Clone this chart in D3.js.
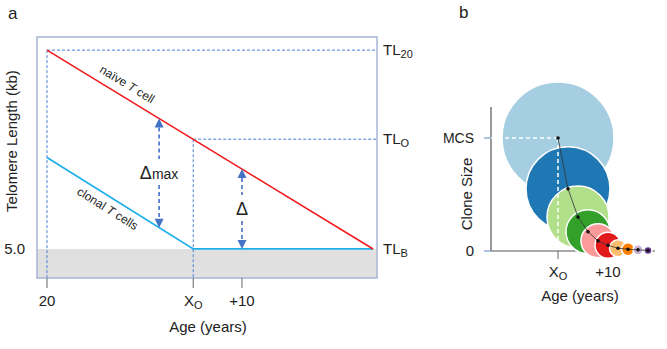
<!DOCTYPE html>
<html>
<head>
<meta charset="utf-8">
<script src="https://cdn.jsdelivr.net/npm/d3@7"></script>
<style>
  body { margin: 0; background: #fff; }
  text { font-family: "Liberation Sans", Arial, sans-serif; fill: #222; }
</style>
</head>
<body>
<div id="chart"></div>
<script>
// ---- panel a data ----
var naiveAge = [20, 86.9];
var naiveTL = [10, 5];
var clonalAge = [20, 50, 86.9];
var clonalTL = [7.3, 5, 5];
var tickAges = [20, 50, 60];
var tickLabels = ["20", "X|O", "+10"];
var levelNames = ["TL|20", "TL|O", "TL|B"];
var levelTL = [10, 7.76, 5];
var arrowAges = [43, 60];
var arrowLabels = ["Δ|max", "Δ|"];

// ---- panel b data ----
var cloneAge = [50, 52, 54, 56, 58, 60, 62, 64, 66, 68];
var cloneSize = [1.0, 0.55, 0.30, 0.17, 0.09, 0.05, 0.025, 0.015, 0.01, 0.005];
var cloneSpread = [56, 42, 31, 22, 17, 13, 8.5, 6.5, 5, 4];
var cloneColors = ["#a6cee3", "#1f78b4", "#b2df8a", "#33a02c", "#fb9a99",
                   "#e31a1c", "#fdbf6f", "#ff7f00", "#cab2d6", "#6a3d9a"];
var bTickAges = [50, 60];
var bTickLabels = ["X|O", "+10"];

var svg = d3.select("#chart").append("svg")
    .attr("width", 667)
    .attr("height", 349);

// text with a subscript, "main|sub"
function subText(sel, label, big, small) {
  var parts = label.split("|");
  sel.append("tspan").text(parts[0]).attr("font-size", big);
  if (parts[1]) sel.append("tspan").text(parts[1]).attr("font-size", small).attr("dy", 3);
}

// ================= panel a =================
var x = d3.scaleLinear().domain([17.95, 87.7]).range([37, 377]);
var y = d3.scaleLinear().domain([4.27, 10.33]).range([278, 37]);
var dashBlue = "#4a7fd6";

svg.append("text").attr("x", 8).attr("y", 19).attr("font-size", 17).text("a");

// grey floor below TL_B
svg.append("rect")
    .attr("x", x.range()[0]).attr("y", y(5))
    .attr("width", x.range()[1] - x.range()[0])
    .attr("height", y(y.domain()[0]) - y(5))
    .attr("fill", "#e0e0e0");

// dashed guide lines
svg.append("line")
    .attr("x1", x(20)).attr("x2", x.range()[1])
    .attr("y1", y(levelTL[0])).attr("y2", y(levelTL[0]))
    .attr("stroke", dashBlue).attr("stroke-dasharray", "3,2");
svg.append("line")
    .attr("x1", x(20)).attr("x2", x(20))
    .attr("y1", y(levelTL[0])).attr("y2", y.range()[0])
    .attr("stroke", dashBlue).attr("stroke-dasharray", "3,2");
svg.append("line")
    .attr("x1", x(50)).attr("x2", x.range()[1])
    .attr("y1", y(levelTL[1])).attr("y2", y(levelTL[1]))
    .attr("stroke", dashBlue).attr("stroke-dasharray", "3,2");
svg.append("line")
    .attr("x1", x(50)).attr("x2", x(50))
    .attr("y1", y(levelTL[1])).attr("y2", y.range()[0])
    .attr("stroke", dashBlue).attr("stroke-dasharray", "3,2");

// frame
svg.append("rect")
    .attr("x", 37).attr("y", 37).attr("width", 340).attr("height", 241)
    .attr("fill", "none").attr("stroke", "#a7b4d6").attr("stroke-width", 1.5);

var line = d3.line()
    .x(function(d) { return x(d[0]); })
    .y(function(d) { return y(d[1]); });

svg.append("path")
    .datum(d3.zip(clonalAge, clonalTL))
    .attr("d", line)
    .attr("fill", "none").attr("stroke", "#1fb0ec").attr("stroke-width", 1.8);
svg.append("path")
    .datum(d3.zip(naiveAge, naiveTL))
    .attr("d", line)
    .attr("fill", "none").attr("stroke", "#f01a1e").attr("stroke-width", 1.6);

// line labels
var naiveAngle = Math.atan2(y(naiveTL[1]) - y(naiveTL[0]), x(naiveAge[1]) - x(naiveAge[0])) * 180 / Math.PI;
var nl = svg.append("text")
    .attr("transform", "translate(" + x(36) + "," + (y(10 - 16 * 5 / 66.9) - 10) + ") rotate(" + naiveAngle + ")")
    .attr("text-anchor", "middle").attr("font-size", 12);
nl.append("tspan").text("naïve ");
nl.append("tspan").text("T").attr("font-style", "italic");
nl.append("tspan").text(" cell");

var clonalAngle = Math.atan2(y(clonalTL[1]) - y(clonalTL[0]), x(clonalAge[1]) - x(clonalAge[0])) * 180 / Math.PI;
var cl = svg.append("text")
    .attr("transform", "translate(" + x(32) + "," + (y(7.3 - 12 * 2.3 / 30) + 18) + ") rotate(" + clonalAngle + ")")
    .attr("text-anchor", "middle").attr("font-size", 12);
cl.append("tspan").text("clonal ");
cl.append("tspan").text("T").attr("font-style", "italic");
cl.append("tspan").text(" cells");

// delta arrows
var arrowBlue = "#4472c4";
function naiveAt(a) { return d3.scaleLinear().domain(naiveAge).range(naiveTL)(a); }
function clonalAt(a) { return a < 50 ? d3.scaleLinear().domain([20, 50]).range([7.3, 5])(a) : 5; }
arrowAges.forEach(function(a, i) {
  var top = y(naiveAt(a)), bot = y(clonalAt(a)), cx = x(a), mid = (top + bot) / 2;
  svg.append("path")
      .attr("d", "M" + cx + "," + top + "l-4.5,9h9z").attr("fill", arrowBlue);
  svg.append("path")
      .attr("d", "M" + cx + "," + bot + "l-4.5,-9h9z").attr("fill", arrowBlue);
  svg.append("line").attr("x1", cx).attr("x2", cx).attr("y1", top + 9).attr("y2", mid - 14)
      .attr("stroke", arrowBlue).attr("stroke-width", 1.6).attr("stroke-dasharray", "4,3");
  svg.append("line").attr("x1", cx).attr("x2", cx).attr("y1", mid + 12).attr("y2", bot - 9)
      .attr("stroke", arrowBlue).attr("stroke-width", 1.6).attr("stroke-dasharray", "4,3");
  var t = svg.append("text").attr("x", cx).attr("y", mid + 6).attr("text-anchor", "middle");
  var p = arrowLabels[i].split("|");
  t.append("tspan").text(p[0]).attr("font-size", 18);
  if (p[1]) t.append("tspan").text(p[1]).attr("font-size", 14);
});

// x ticks
tickAges.forEach(function(a, i) {
  svg.append("line").attr("x1", x(a)).attr("x2", x(a)).attr("y1", 278).attr("y2", 288)
      .attr("stroke", "#666");
  var t = svg.append("text").attr("x", x(a)).attr("y", 306).attr("text-anchor", "middle");
  subText(t, tickLabels[i], 15, 11);
});

// right side level labels
levelNames.forEach(function(n, i) {
  var t = svg.append("text").attr("x", 383).attr("y", y(levelTL[i]) + 5);
  subText(t, n, 15, 11);
});

svg.append("text").attr("x", 25).attr("y", y(5) + 5).attr("text-anchor", "end")
    .attr("font-size", 15).text("5.0");

svg.append("text")
    .attr("transform", "translate(17,141) rotate(-90)")
    .attr("text-anchor", "middle").attr("font-size", 15)
    .text("Telomere Length (kb)");

svg.append("text").attr("x", 208).attr("y", 332).attr("text-anchor", "middle")
    .attr("font-size", 15).text("Age (years)");

// ================= panel b =================
var bx = d3.scaleLinear().domain([36.6, 69.4]).range([491, 655]);
var by = d3.scaleLinear().domain([0, 1]).range([251, 138]);
var br = d3.scaleLinear().domain([0, 56]).range([0, 56]);

svg.append("text").attr("x", 459).attr("y", 18).attr("font-size", 17).text("b");

// axes
svg.append("line").attr("x1", bx(36.6)).attr("x2", bx(36.6)).attr("y1", 107).attr("y2", by(0))
    .attr("stroke", "#555").attr("stroke-width", 1.2);
svg.append("line").attr("x1", bx(36.6)).attr("x2", bx(69.4)).attr("y1", by(0)).attr("y2", by(0))
    .attr("stroke", "#555").attr("stroke-width", 1.2);
[0, 1].forEach(function(v) {
  svg.append("line").attr("x1", bx(36.6) - 7).attr("x2", bx(36.6)).attr("y1", by(v)).attr("y2", by(v))
      .attr("stroke", "#7a9bd8").attr("stroke-width", 1.2);
});
bTickAges.forEach(function(a, i) {
  svg.append("line").attr("x1", bx(a)).attr("x2", bx(a)).attr("y1", by(0)).attr("y2", by(0) + 8)
      .attr("stroke", "#666");
  var t = svg.append("text").attr("x", bx(a)).attr("y", 277).attr("text-anchor", "middle");
  subText(t, bTickLabels[i], 15, 11);
});

// clone circles
var clones = d3.range(cloneAge.length).map(function(i) {
  return { age: cloneAge[i], size: cloneSize[i], r: cloneSpread[i], color: cloneColors[i] };
});
svg.selectAll(".clone")
    .data(clones)
  .enter().append("circle")
    .attr("class", "clone")
    .attr("cx", function(d) { return bx(d.age); })
    .attr("cy", function(d) { return by(d.size); })
    .attr("r", function(d) { return br(d.r); })
    .attr("fill", function(d) { return d.color; })
    .attr("stroke", "#fff").attr("stroke-width", 1.5);

// MCS guide lines
svg.append("line").attr("x1", bx(36.6)).attr("x2", bx(cloneAge[0]))
    .attr("y1", by(cloneSize[0])).attr("y2", by(cloneSize[0]))
    .attr("stroke", "#fff").attr("stroke-width", 1.5).attr("stroke-dasharray", "4,3");
svg.append("line").attr("x1", bx(cloneAge[0])).attr("x2", bx(cloneAge[0]))
    .attr("y1", by(cloneSize[0])).attr("y2", by(0) - 8)
    .attr("stroke", "#fff").attr("stroke-width", 1.5).attr("stroke-dasharray", "4,3");

// trajectory
svg.append("path")
    .datum(clones)
    .attr("d", d3.line().x(function(d) { return bx(d.age); }).y(function(d) { return by(d.size); }))
    .attr("fill", "none").attr("stroke", "#333").attr("stroke-width", 0.8);
svg.selectAll(".dot")
    .data(clones)
  .enter().append("circle")
    .attr("cx", function(d) { return bx(d.age); })
    .attr("cy", function(d) { return by(d.size); })
    .attr("r", 1.8).attr("fill", "#111");

svg.append("text").attr("x", 474).attr("y", by(1) + 5).attr("text-anchor", "end")
    .attr("font-size", 14).text("MCS");
svg.append("text").attr("x", 474).attr("y", by(0) + 5).attr("text-anchor", "end")
    .attr("font-size", 15).text("0");
svg.append("text")
    .attr("transform", "translate(472,194) rotate(-90)")
    .attr("text-anchor", "middle").attr("font-size", 15)
    .text("Clone Size");
svg.append("text").attr("x", 580).attr("y", 301).attr("text-anchor", "middle")
    .attr("font-size", 15).text("Age (years)");
</script>
</body>
</html>
